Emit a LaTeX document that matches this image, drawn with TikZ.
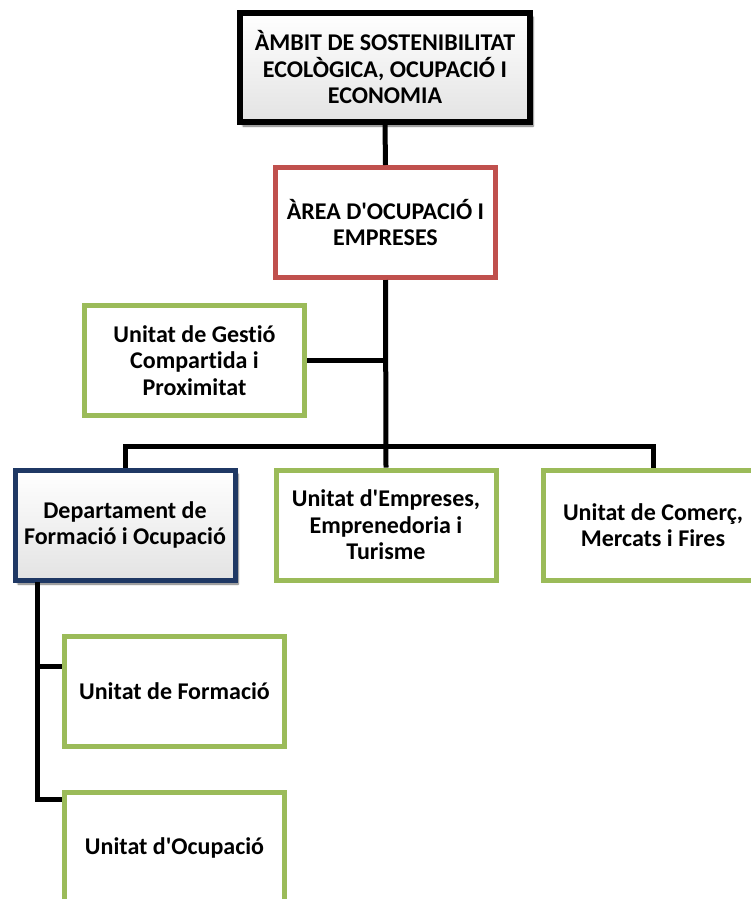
\documentclass[tikz,border=0pt]{standalone}
\usepackage{fontspec}
\setmainfont{Carlito}[Ligatures=NoCommon]
\usetikzlibrary{shadows.blur}
\definecolor{unitgreen}{RGB}{155,187,89}
\definecolor{areared}{RGB}{192,80,77}
\definecolor{deptblue}{RGB}{31,56,100}
\begin{document}
\begin{tikzpicture}
                                [
                                    x=1pt, y=-1pt,
                                    box/.style = {draw, shape=rectangle, minimum width=220pt, minimum height=110pt, line width=5pt, align=center, font=\fontsize{24}{26.5}\selectfont\bfseries},
                                    unit/.style = {box, draw=unitgreen, fill=white},
                                    shaded/.style = {box, top color=white, bottom color=gray!22, blur shadow={shadow xshift=3pt, shadow yshift=-4pt, shadow blur steps=6, shadow opacity=60}},
                                    link/.style = {draw=black, line width=5pt},
                                ]

                                \useasboundingbox (0,0) rectangle (750,899);

                                \node[shaded, draw=black, line width=6pt, minimum width=290pt, minimum height=109pt] (ambit) at (385,67.5) {ÀMBIT DE SOSTENIBILITAT\\ECOLÒGICA, OCUPACIÓ I\\ECONOMIA};
                                \node[box, draw=areared, fill=white] (area) at (385.5,222.5) {ÀREA D\textquotesingle OCUPACIÓ I\\EMPRESES};

                                \node[unit] (gestio) at (194.5,360.5) {Unitat de Gestió\\Compartida i\\Proximitat};

                                \node[shaded, draw=deptblue] (dept) at (125,525) {Departament de\\Formació i Ocupació};
                                \node[unit] (empreses) at (386,525) {Unitat d\textquotesingle Empreses,\\Emprenedoria i\\Turisme};
                                \node[unit] (comerc) at (653,525) {Unitat de Comerç,\\Mercats i Fires};

                                \node[unit] (formacio) at (174.5,691.5) {Unitat de Formació};
                                \node[unit] (ocupacio) at (174.5,847.5) {Unitat d\textquotesingle Ocupació};

                                \coordinate (bus) at (386,446);
                                \coordinate (trunk) at (37,582);

                                \draw[link] (ambit.south) -- (area.north);
                                \draw[link] (area.south) -- (empreses.north);
                                \draw[link] (gestio.east) -- (gestio.east -| area.south);
                                \draw[link] (dept.north) -- (dept.north |- bus) -- (comerc.north |- bus) -- (comerc.north);
                                \draw[link] (trunk) -- (trunk |- 0,799) -- (ocupacio.west |- 0,799);
                                \draw[link] (trunk |- 0,666) -- (formacio.west |- 0,666);
                            \end{tikzpicture}
\end{document}
